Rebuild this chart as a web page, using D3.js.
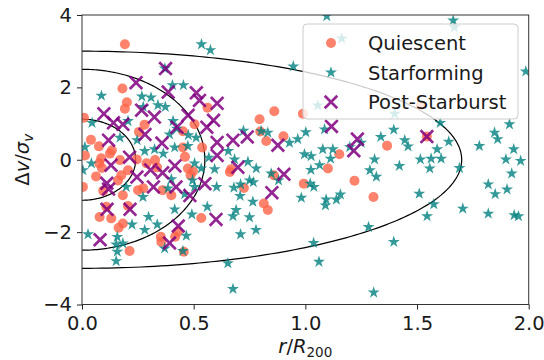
<!DOCTYPE html>
<html><head><meta charset="utf-8">
<script src="https://cdn.jsdelivr.net/npm/d3@7"></script>
<style>body{margin:0;background:#fff} text{font-family:"DejaVu Sans",sans-serif}</style>
</head><body><svg id="c" width="544" height="360"></svg>
<script>
const xTicks=[0,0.5,1.0,1.5,2.0];
const yTicks=[-4,-2,0,2,4];
const seriesNames=["Quiescent","Starforming","Post-Starburst"];
const ellipseA=[0.24,0.55,1.7];
const ellipseB=[1.12,2.5,3.0];
const quiescent=[[0.192,3.19],[0.181,1.97],[0.201,1.59],[0.192,1.41],[0.009,1.16],[0.280,0.97],[0.255,0.77],[0.040,0.55],[0.076,0.37],[0.562,1.44],[0.504,0.98],[0.452,0.79],[0.452,0.34],[0.538,0.34],[0.795,1.12],[0.798,0.78],[0.861,1.34],[0.989,1.27],[0.825,0.52],[0.902,0.65],[1.152,0.15],[1.366,0.39],[1.517,1.50],[1.544,0.64],[0.125,0.17],[0.013,0.12],[0.170,-0.01],[0.077,-0.10],[0.289,-0.10],[0.461,0.08],[0.245,0.01],[0.662,-0.34],[0.486,-0.43],[0.089,-0.23],[0.086,0.04],[0.474,-0.24],[0.497,-0.32],[0.668,-0.26],[0.725,-0.78],[0.400,-0.98],[0.534,-1.61],[0.430,-1.99],[0.417,-2.13],[0.456,-2.54],[0.004,-0.75],[0.161,-0.57],[0.176,-0.43],[0.183,-0.98],[0.251,-0.84],[0.109,-1.30],[0.079,-1.58],[0.131,-1.62],[0.206,-1.28],[0.183,-1.76],[0.164,-1.88],[0.213,-2.52],[0.355,-2.27],[0.095,-0.86],[0.274,-0.79],[0.361,-0.84],[0.353,-2.13],[0.859,-0.43],[1.101,-0.24],[1.220,-0.58],[0.993,-0.66],[1.305,-1.03],[0.814,-1.21],[0.832,-1.39],[0.134,0.26],[0.206,-0.29],[0.327,-0.01],[0.063,-0.46],[0.336,-0.21]];
const starforming=[[0.535,3.19],[0.575,3.03],[1.096,3.97],[1.662,3.85],[1.667,3.66],[1.987,2.44],[1.163,3.35],[0.946,2.58],[1.056,1.50],[1.400,1.27],[0.087,1.77],[0.268,1.75],[0.309,1.72],[0.340,1.51],[0.373,1.46],[0.405,2.06],[0.454,2.06],[0.274,1.46],[0.045,1.02],[0.206,1.07],[0.408,1.07],[0.424,0.86],[0.476,0.68],[0.511,0.61],[0.392,0.70],[0.170,0.61],[0.247,0.54],[0.281,0.24],[0.415,0.34],[0.474,0.38],[0.568,0.06],[0.655,0.24],[0.723,0.80],[0.013,0.35],[0.364,0.17],[0.371,2.52],[0.802,0.79],[0.832,0.75],[0.929,0.47],[0.966,0.57],[1.002,0.76],[1.086,0.84],[1.078,0.29],[1.123,0.29],[1.250,0.47],[1.338,0.63],[0.996,0.15],[1.026,0.10],[1.310,0.01],[1.199,0.35],[1.396,0.83],[1.445,0.54],[1.460,0.37],[1.604,1.02],[1.914,0.98],[1.847,0.75],[1.861,0.57],[1.642,0.50],[1.590,0.29],[1.563,0.03],[1.515,0.01],[1.608,0.03],[1.779,0.38],[1.933,0.29],[1.898,0.01],[1.964,-0.03],[1.421,-0.17],[1.690,-0.23],[1.924,-0.38],[1.819,-0.68],[1.850,-0.95],[1.903,-0.82],[1.510,-0.94],[1.575,-1.23],[1.705,-1.35],[1.545,-1.56],[1.819,-1.49],[1.935,-1.53],[1.954,-1.56],[1.396,-2.27],[1.025,-0.28],[1.113,0.03],[1.064,-0.15],[0.847,-0.38],[0.880,-0.57],[1.022,-0.66],[1.038,-0.75],[1.318,-0.47],[0.982,-1.05],[1.093,-1.10],[1.090,-1.26],[1.139,-1.10],[1.157,-0.96],[1.283,-1.86],[0.779,-1.94],[1.037,-2.30],[1.061,-2.82],[1.306,-3.67],[1.289,-0.29],[1.557,-0.24],[0.504,-0.10],[0.534,-0.24],[0.594,-0.26],[0.743,-0.06],[0.780,-0.24],[0.750,-0.57],[0.767,-0.62],[0.680,-0.77],[0.710,-0.68],[0.708,-1.00],[0.400,-0.54],[0.504,-0.75],[0.460,-0.95],[0.561,-1.30],[0.492,-1.51],[0.676,-1.56],[0.690,-1.39],[0.765,-1.16],[0.750,-1.59],[0.710,-2.06],[0.415,-1.37],[0.467,-2.10],[0.452,-2.52],[0.653,-2.86],[0.676,-3.57],[0.042,-0.10],[0.004,-0.29],[0.198,-0.75],[0.273,-1.03],[0.385,-0.79],[0.298,-1.58],[0.337,-1.79],[0.281,-1.94],[0.224,-1.79],[0.027,-2.06],[0.158,-2.13],[0.153,-2.34],[0.183,-2.31],[0.158,-2.54],[0.153,-2.80],[0.370,-2.45],[0.495,-0.57],[0.603,-0.75],[0.325,0.29],[0.683,0.01]];
const postStarburst=[[0.374,2.52],[0.242,2.13],[0.386,1.87],[0.512,1.85],[0.526,1.64],[0.605,1.56],[0.098,1.27],[0.267,1.37],[0.324,1.18],[0.141,1.02],[0.183,0.98],[0.475,1.23],[0.589,1.09],[0.559,0.90],[0.425,0.90],[0.282,0.70],[0.119,0.54],[0.358,0.46],[0.605,0.48],[0.676,0.54],[0.740,0.63],[0.877,0.40],[0.605,0.12],[0.213,0.07],[0.130,-0.15],[0.307,-0.28],[0.361,-0.36],[0.416,-0.17],[0.698,-0.21],[0.904,-0.40],[0.850,-0.91],[0.246,-0.48],[0.111,-0.65],[0.320,-0.75],[0.421,-0.75],[0.483,-0.99],[0.550,-0.66],[0.112,-1.37],[0.215,-1.37],[0.600,-1.65],[0.431,-1.83],[0.081,-2.21],[0.392,-2.30],[1.117,0.92],[1.233,0.57],[1.217,0.25],[1.544,0.64],[0.119,-0.81]];

const L=82,R=528.7,T=15,B=304.5;
const svg=d3.select("#c");
const x=d3.scaleLinear().domain([0,2]).range([L,R]);
const y=d3.scaleLinear().domain([-4,4]).range([B,T]);
svg.append("defs").append("clipPath").attr("id","clip").append("rect")
  .attr("x",L).attr("y",T).attr("width",R-L).attr("height",B-T);
const plot=svg.append("g").attr("clip-path","url(#clip)");

// ellipses
const line=d3.line().x(d=>x(d[0])).y(d=>y(d[1]));
ellipseA.forEach((a,i)=>{
  const b=ellipseB[i];
  const pts=d3.range(0,361).map(k=>{const t=k*Math.PI/180;return [a*Math.cos(t),b*Math.sin(t)];});
  plot.append("path").attr("d",line(pts)).attr("fill","none").attr("stroke","#000").attr("stroke-width",1.2);
});

function starPath(R0){
  const r=R0*0.382;let p=[];
  for(let k=0;k<10;k++){const a=-Math.PI/2+k*Math.PI/5;const rr=k%2?r:R0;p.push([rr*Math.cos(a),rr*Math.sin(a)]);}
  return "M"+p.map(q=>q[0].toFixed(2)+","+q[1].toFixed(2)).join("L")+"Z";
}
const STAR=starPath(6.3);
const XS=6.3;
const xPath=`M${-XS},${-XS}L${XS},${XS}M${-XS},${XS}L${XS},${-XS}`;
const colQ="#ff6347",colS="#008080",colP="#800080";

plot.selectAll("circle.q").data(quiescent).join("circle")
  .attr("cx",d=>x(d[0])).attr("cy",d=>y(d[1])).attr("r",5)
  .attr("fill",colQ).attr("fill-opacity",0.8);
plot.selectAll("path.s").data(starforming).join("path")
  .attr("transform",d=>`translate(${x(d[0])},${y(d[1])})`).attr("d",STAR)
  .attr("fill",colS).attr("fill-opacity",0.8);
plot.selectAll("path.p").data(postStarburst).join("path")
  .attr("transform",d=>`translate(${x(d[0])},${y(d[1])})`).attr("d",xPath)
  .attr("fill","none").attr("stroke",colP).attr("stroke-width",2.7).attr("stroke-opacity",0.85);

// axes
const fs="19.5px";
const ax=svg.append("g").attr("transform",`translate(0,${B})`)
  .call(d3.axisBottom(x).tickValues(xTicks).tickFormat(d3.format(".1f")).tickSize(5).tickPadding(7));
const ay=svg.append("g").attr("transform",`translate(${L},0)`)
  .call(d3.axisLeft(y).tickValues(yTicks).tickFormat(d3.format("d")).tickSize(5).tickPadding(5));
[ax,ay].forEach(g=>{g.select(".domain").remove();g.selectAll("text").attr("font-size",fs).attr("fill","#1a1a1a").attr("font-family","DejaVu Sans");g.selectAll("line").attr("stroke","#222");});
svg.append("rect").attr("x",L).attr("y",T).attr("width",R-L).attr("height",B-T)
  .attr("fill","none").attr("stroke","#333").attr("stroke-width",1);

// axis labels
const xl=svg.append("text").attr("x",(L+R)/2).attr("y",353).attr("text-anchor","middle").attr("font-size",fs).attr("fill","#1a1a1a");
xl.append("tspan").attr("font-style","italic").text("r");
xl.append("tspan").text("/");
xl.append("tspan").attr("font-style","italic").text("R");
xl.append("tspan").attr("font-size","13.5px").attr("dy",4).text("200");
const yl=svg.append("text").attr("transform",`translate(29,${(T+B)/2}) rotate(-90)`).attr("text-anchor","middle").attr("font-size",fs).attr("fill","#1a1a1a");
yl.append("tspan").text("Δ");
yl.append("tspan").attr("font-style","italic").text("v");
yl.append("tspan").text("/");
yl.append("tspan").attr("font-style","italic").text("σ");
yl.append("tspan").attr("font-style","italic").attr("font-size","13.5px").attr("dy",4).text("v");

// legend
const lg=svg.append("g");
lg.append("rect").attr("x",303).attr("y",24).attr("width",215).attr("height",95).attr("rx",4)
  .attr("fill","#fff").attr("fill-opacity",0.8).attr("stroke","#ccc").attr("stroke-width",1);
const rowsY=[43,72.5,102];
lg.append("circle").attr("cx",331).attr("cy",rowsY[0]).attr("r",5).attr("fill",colQ).attr("fill-opacity",0.8);
lg.append("path").attr("transform",`translate(331,${rowsY[1]})`).attr("d",STAR).attr("fill",colS).attr("fill-opacity",0.8);
lg.append("path").attr("transform",`translate(331,${rowsY[2]})`).attr("d",xPath).attr("fill","none").attr("stroke",colP).attr("stroke-width",2.7).attr("stroke-opacity",0.85);
seriesNames.forEach((n,i)=>{
  lg.append("text").attr("x",368).attr("y",rowsY[i]).attr("dy","0.36em").attr("font-size",fs).attr("fill","#1a1a1a").text(n);
});
</script></body></html>
